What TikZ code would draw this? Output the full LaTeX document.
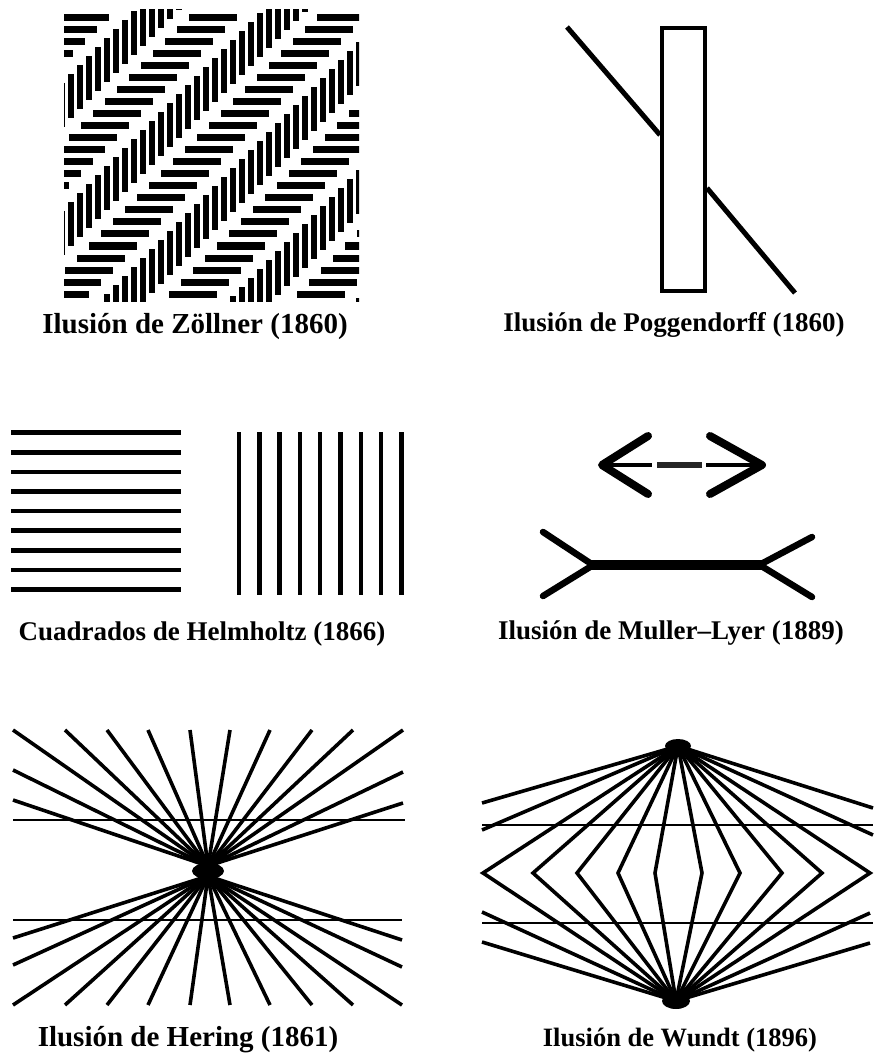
\documentclass[tikz,border=0pt]{standalone}
\usepackage{fontspec}
\setmainfont{Liberation Serif}
\begin{document}
\begin{tikzpicture}[x=1pt,y=-1pt,
  lab/.style={font=\fontsize{#1}{#1}\selectfont\bfseries, inner sep=0pt, anchor=center},
  ray/.style={line width=3.6pt},
  hline/.style={line width=2.6pt},
  stripe/.style={line width=4.5pt},
  arm/.style={line width=8pt, line cap=round, line join=round}]
\useasboundingbox (0,0) rectangle (874,1059);
\fill[white] (0,0) rectangle (874,1059);

% ---------------- Zollner ----------------
\begin{scope}
\clip (64,10) rectangle (359,301);
\foreach \k in {-1,...,5} {
  \pgfmathsetmacro\u{103+128*\k}
  \foreach \j in {0,...,25} {
    \pgfmathsetmacro\yy{6+12*\j}
    \draw[line width=7pt] ({\u-\yy-24},\yy) -- ({\u-\yy+24},\yy);
  }
  \pgfmathsetmacro\v{167+128*\k}
  \foreach \i in {0,...,35} {
    \pgfmathsetmacro\xx{62+9*\i}
    \draw[line width=6pt] (\xx,{\v-\xx-22}) -- (\xx,{\v-\xx+22});
  }
}
\end{scope}
\node[lab=29] (tz) at (195,327) {Ilusión de Zöllner (1860)};

% ---------------- Poggendorff ----------------
\draw[line width=4.5pt] (662,28) rectangle (705,291);
\draw[line width=5pt] (567,27) -- (660,135);
\draw[line width=5pt] (707,188) -- (795,293);
\node[lab=27] (tp) at (674,325) {Ilusión de Poggendorff (1860)};

% ---------------- Helmholtz ----------------
\foreach \i in {0,...,8}
  \draw[stripe] (11,{432.7+19.6*\i}) -- (181,{432.7+19.6*\i});
\foreach \i in {0,...,8}
  \draw[stripe] ({239+20.3*\i},432) -- ({239+20.3*\i},595);
\node[lab=27] (th) at (202,634) {Cuadrados de Helmholtz (1866)};

% ---------------- Muller-Lyer ----------------
\draw[arm] (648,436) -- (602,465) -- (648,494);
\draw[arm] (710,436) -- (762,465) -- (710,494);
\draw[line width=4pt] (602,465) -- (652,465);
\draw[line width=4pt] (706,465) -- (762,465);
\draw[line width=6pt, black!85] (657,465) -- (702,465);
\draw[line width=10pt] (590,565) -- (763,565);
\draw[line width=6.5pt, line cap=round] (543,532) -- (590,563);
\draw[line width=6.5pt, line cap=round] (543,596) -- (590,567);
\draw[line width=6.5pt, line cap=round] (812,537) -- (763,563);
\draw[line width=6.5pt, line cap=round] (812,597) -- (763,567);
\node[lab=27] (tm) at (671,633) {Ilusión de Muller--Lyer (1889)};

% ---------------- Hering ----------------
\coordinate (hu) at (208,866);
\coordinate (hd) at (208,876);
\foreach \x in {13,65,107,148,190,230,270,312,353,403}
  \draw[ray] (hu) -- (\x,730);
\foreach \p in {(13,770),(13,800),(403,772),(403,803)}
  \draw[ray] (hu) -- \p;
\foreach \x in {13,65,107,148,190,230,270,312,353,402}
  \draw[ray] (hd) -- (\x,1005);
\foreach \p in {(13,938),(13,965),(402,940),(402,967)}
  \draw[ray] (hd) -- \p;
\fill (208,871) ellipse [x radius=16, y radius=8];
\draw[hline] (13,820) -- (405,820);
\draw[hline] (13,920) -- (402,920);
\node[lab=29] (tr) at (188,1040) {Ilusión de Hering (1861)};

% ---------------- Wundt ----------------
\coordinate (wt) at (678,746);
\coordinate (wb) at (676,1001);
\foreach \x in {483,533,577,618,655,702,740,782,822,870}
  \draw[ray, line join=miter] (wt) -- (\x,873) -- (wb);
\foreach \p in {(482,803),(482,830),(873,808),(873,835)}
  \draw[ray] (wt) -- \p;
\foreach \p in {(482,912),(482,942),(870,913),(870,943)}
  \draw[ray] (wb) -- \p;
\fill (678,746) ellipse [x radius=13, y radius=7];
\fill (676,1001) ellipse [x radius=14, y radius=8];
\draw[hline] (482,825) -- (873,825);
\draw[hline] (482,923) -- (873,923);
\node[lab=26.5] (tw) at (680,1040) {Ilusión de Wundt (1896)};
\end{tikzpicture}
\end{document}
